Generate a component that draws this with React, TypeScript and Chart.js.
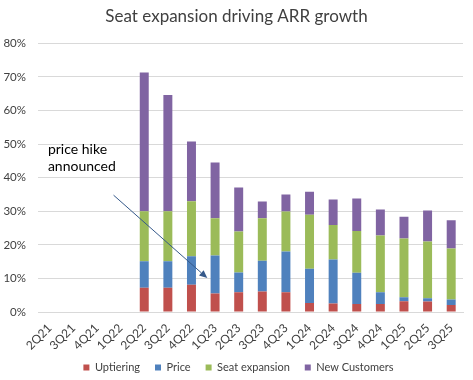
import React, { useEffect, useRef } from "react";
import { Chart, registerables } from "chart.js";

Chart.register(...registerables);

const categories = ["2Q21","3Q21","4Q21","1Q22","2Q22","3Q22","4Q22","1Q23","2Q23","3Q23","4Q23","1Q24","2Q24","3Q24","4Q24","1Q25","2Q25","3Q25"];
const uptiering = [null,null,null,null,7.2,7.2,8.1,5.5,5.9,6.1,5.9,2.7,2.5,2.4,2.4,3.2,3.1,2.1];
const price = [null,null,null,null,7.9,7.9,8.5,11.3,5.9,9.2,12.1,10.2,13.1,9.3,3.5,1.2,1.0,1.6];
const seatExpansion = [null,null,null,null,14.9,14.9,16.4,11.1,12.2,12.6,11.9,16.1,10.3,12.4,16.9,17.5,16.9,15.2];
const newCustomers = [null,null,null,null,41.3,34.6,17.8,16.6,13.1,5.0,5.1,6.8,7.6,9.7,7.7,6.5,9.2,8.4];

const seriesNames = ["Uptiering", "Price", "Seat expansion", "New Customers"];
const seriesColors = ["#C0504D", "#4F81BD", "#9BBB59", "#8064A2"];

const titleText = "Seat expansion driving ARR growth";
const noteLines = ["price hike", "announced"];
// annotation anchor points in data space: [category index, value %]
const noteTextAt = [-0.08, 50];
const arrowFrom = [2.7, 34.8];
const arrowTo = [6.67, 10.1];

const FONT = "Lato, 'Open Sans', sans-serif";

const annotationPlugin = {
  id: "priceHikeNote",
  afterDatasetsDraw(chart: any) {
    const { ctx, scales } = chart;
    const xs = scales.x;
    const ys = scales.y;
    const step = xs.getPixelForValue(1) - xs.getPixelForValue(0);
    const px = (i: number) => xs.getPixelForValue(0) + i * step;
    ctx.save();
    ctx.fillStyle = "#000000";
    ctx.font = "14px " + FONT;
    ctx.textBaseline = "alphabetic";
    ctx.textAlign = "left";
    const tx = px(noteTextAt[0]);
    const ty = ys.getPixelForValue(noteTextAt[1]) + 10;
    noteLines.forEach((l, k) => ctx.fillText(l, tx, ty + k * 17));
    const x1 = px(arrowFrom[0]);
    const y1 = ys.getPixelForValue(arrowFrom[1]);
    const x2 = px(arrowTo[0]);
    const y2 = ys.getPixelForValue(arrowTo[1]);
    ctx.strokeStyle = "#35598A";
    ctx.fillStyle = "#35598A";
    ctx.lineWidth = 1;
    const ang = Math.atan2(y2 - y1, x2 - x1);
    const hl = 8;
    const bx = x2 - hl * Math.cos(ang);
    const by = y2 - hl * Math.sin(ang);
    ctx.beginPath();
    ctx.moveTo(x1, y1);
    ctx.lineTo(bx, by);
    ctx.stroke();
    ctx.beginPath();
    ctx.moveTo(x2, y2);
    ctx.lineTo(bx + 3.5 * Math.sin(ang), by - 3.5 * Math.cos(ang));
    ctx.lineTo(bx - 3.5 * Math.sin(ang), by + 3.5 * Math.cos(ang));
    ctx.closePath();
    ctx.fill();
    ctx.restore();
  },
};

// centre title/legend on the full canvas and pull the legend closer to the axis labels
const layoutNudge = {
  id: "layoutNudge",
  afterLayout(chart: any) {
    const lg = chart.legend;
    if (lg) {
      lg.top -= 3;
      lg.bottom -= 3;
      lg.right += 14;
    }
    const tb = chart.titleBlock;
    if (tb) {
      tb.right += 10;
    }
  },
};

export default function App() {
  const ref = useRef<HTMLCanvasElement | null>(null);
  useEffect(() => {
    document.body.style.margin = "0";
    const seriesData = [uptiering, price, seatExpansion, newCustomers];
    const chart = new Chart(ref.current as HTMLCanvasElement, {
      type: "bar",
      data: {
        labels: categories,
        datasets: seriesData.map((d, i) => ({
          label: seriesNames[i],
          data: d as any,
          backgroundColor: seriesColors[i],
          borderWidth: 0,
          barPercentage: 0.38,
          categoryPercentage: 1,
        })),
      },
      options: {
        animation: false,
        responsive: false,
        maintainAspectRatio: false,
        layout: { padding: { left: 0, right: 10, top: 4, bottom: -6 } },
        plugins: {
          title: {
            display: true,
            text: titleText,
            color: "#404040",
            font: { family: FONT, size: 17, weight: "normal" },
            padding: { top: 2, bottom: 17 },
          },
          legend: {
            position: "bottom",
            labels: {
              boxWidth: 6,
              boxHeight: 6,
              color: "#404040",
              font: { family: FONT, size: 11 },
              padding: 15,
            },
          },
          tooltip: { enabled: false },
        },
        scales: {
          x: {
            stacked: true,
            grid: { display: false, drawTicks: false },
            border: { display: true, color: "#D9D9D9" },
            ticks: {
              color: "#404040",
              font: { family: FONT, size: 12 },
              minRotation: 45,
              maxRotation: 45,
              padding: 9,
              autoSkip: false,
            },
            afterFit: (s: any) => {
              s.height = 38;
            },
          },
          y: {
            stacked: true,
            min: 0,
            max: 80,
            grid: { color: "#D9D9D9", drawTicks: false },
            border: { display: false },
            ticks: {
              stepSize: 10,
              color: "#404040",
              font: { family: FONT, size: 11.5 },
              padding: 12,
              callback: (v: any) => v + "%",
            },
            afterFit: (s: any) => {
              s.width = 38;
            },
          },
        },
      },
      plugins: [annotationPlugin, layoutNudge],
    });
    return () => chart.destroy();
  }, []);
  return (
    <div style={{ width: 473, height: 380 }}>
      <canvas ref={ref} width={473} height={380} style={{ display: "block" }} />
    </div>
  );
}
